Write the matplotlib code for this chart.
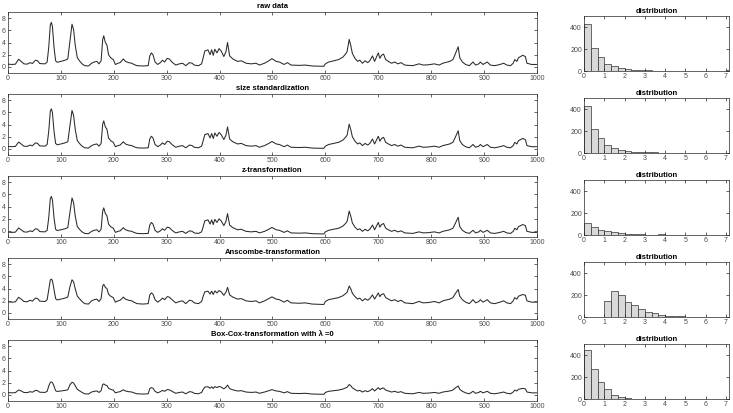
import numpy as np
import matplotlib
matplotlib.use("Agg")
import matplotlib.pyplot as plt

# ---- raw signal keypoints (sample index, value) ----
raw_x = [0, 8, 14, 20, 25, 30, 36, 42, 46, 52, 56, 60, 70, 74, 77, 80, 82, 84, 87, 90,
         93, 100, 108, 113, 117, 121, 124, 127, 131, 136, 140, 145, 152, 158, 163, 168, 172, 176, 179, 181,
         184, 187, 190, 194, 199, 203, 208, 212, 218, 222, 228, 234, 238, 244, 255, 265, 268, 271, 274, 278,
         283, 288, 292, 296, 301, 305, 310, 317, 324, 330, 336, 343, 348, 352, 360, 366, 369, 372, 378, 382,
         385, 388, 391, 395, 399, 403, 408, 412, 415, 419, 425, 434, 441, 450, 460, 469, 475, 485, 493, 499,
         507, 513, 522, 528, 535, 550, 562, 575, 597, 600, 606, 616, 625, 633, 638, 641, 645, 648, 651, 656,
         661, 665, 670, 675, 680, 684, 689, 693, 700, 703, 706, 710, 714, 719, 725, 731, 737, 743, 750, 765,
         777, 785, 795, 806, 815, 822, 835, 841, 845, 851, 854, 859, 865, 872, 879, 884, 890, 893, 898, 906,
         912, 920, 930, 937, 943, 950, 955, 958, 962, 965, 973, 978, 981, 990, 1000]
raw_y = [0.45, 0.4, 0.45, 1.25, 0.9, 0.5, 0.45, 0.7, 0.55, 1.1, 1.0, 0.55, 0.5, 0.8, 3.2, 6.9, 7.3, 6.6, 3.2, 1.0,
         0.75, 0.9, 1.1, 1.3, 4.2, 7.0, 6.1, 3.6, 1.5, 0.9, 0.5, 0.2, 0.15, 0.6, 0.8, 0.9, 0.5, 1.0, 4.5, 5.1,
         4.0, 3.6, 2.0, 1.5, 1.2, 0.4, 0.6, 0.7, 1.3, 0.9, 0.7, 0.6, 0.4, 0.2, 0.15, 0.2, 1.8, 2.3, 2.0, 0.8,
         0.4, 0.7, 1.1, 0.8, 1.4, 1.3, 0.8, 0.3, 0.5, 0.6, 0.2, 0.7, 0.6, 0.3, 0.2, 0.5, 1.5, 2.6, 2.8, 2.0,
         2.8, 1.9, 2.9, 2.3, 3.0, 2.6, 1.7, 2.5, 4.0, 1.8, 1.3, 0.9, 1.0, 0.6, 0.5, 0.6, 0.3, 0.6, 1.0, 1.35,
         0.9, 0.8, 0.4, 0.7, 0.3, 0.25, 0.3, 0.15, 0.1, 0.5, 0.8, 1.0, 1.2, 1.6, 2.1, 2.5, 4.5, 3.5, 2.2, 1.4,
         0.9, 1.1, 0.6, 1.0, 0.7, 1.0, 1.8, 0.9, 2.3, 1.4, 1.9, 2.1, 1.2, 0.9, 0.6, 0.8, 0.5, 0.7, 0.3, 0.2,
         0.5, 0.3, 0.35, 0.5, 0.3, 0.6, 0.9, 1.2, 2.0, 3.3, 1.5, 0.8, 0.4, 0.2, 0.8, 0.3, 0.5, 0.8, 0.4, 0.8,
         0.3, 0.2, 0.4, 0.6, 0.3, 0.2, 0.6, 1.2, 0.9, 1.5, 1.9, 1.7, 0.6, 0.4, 0.4]

# transformation parameters
size_factor = 0.9
z_mean = 0.685
z_std = 1.17

raw = np.array(raw_y)
series = [
    raw,
    raw * size_factor,
    (raw - z_mean) / z_std,
    2.0 * np.sqrt(raw + 3.0 / 8.0),
    np.log(raw + 1.0),
]
titles = ["raw data", "size standardization", "z-transformation",
          "Anscombe-transformation", "Box-Cox-transformation with \u03bb =0"]

# ---- histogram counts (bin width 1/3, starting at 0) ----
bin_width = 1.0 / 3.0
hist_raw = [424, 212, 130, 64, 48, 24, 18, 12, 9, 6, 4, 3, 3, 2, 2, 2, 2, 1, 1, 1, 1, 5]
hist_size = [425, 215, 140, 75, 50, 30, 20, 13, 10, 7, 5, 4, 3, 3, 2, 2, 2, 2, 1, 3]
hist_z = [105, 75, 48, 33, 24, 15, 10, 6, 8, 3, 3, 5, 3, 2, 1, 1, 1]
hist_ans = [0, 0, 0, 144, 235, 198, 135, 105, 75, 42, 33, 18, 12, 6, 5, 4, 3, 1]
hist_box = [442, 271, 156, 90, 36, 18, 12]
hists = [hist_raw, hist_size, hist_z, hist_ans, hist_box]

line_x_ticks = list(range(0, 1001, 100))
line_y_ticks = [0, 2, 4, 6, 8]
hist_x_ticks = [0, 1, 2, 3, 4, 5, 6, 7]
hist_y_ticks = [0, 200, 400]

W, H = 733, 413
fig = plt.figure(figsize=(W / 100, H / 100), dpi=100)
plt.rcParams['font.family'] = ['Liberation Sans', 'DejaVu Sans']

axcol = '#262626'
txtcol = '#4a4a4a'


def style(ax):
    for s in ax.spines.values():
        s.set_color(axcol)
        s.set_linewidth(0.5)
    ax.tick_params(direction='in', length=2.2, width=0.5, colors=axcol,
                   labelsize=5, labelcolor=txtcol, top=True, right=True, pad=1.5)


for i in range(5):
    top = 12 + 82 * i
    ax = fig.add_axes([8 / W, 1 - (top + 61) / H, 529 / W, 61 / H])
    ax.plot(raw_x, series[i], color='#2a2a2a', lw=0.75)
    ax.set_xlim(0, 1000)
    ax.set_ylim(-1, 9)
    ax.set_xticks(line_x_ticks)
    ax.set_yticks(line_y_ticks)
    style(ax)
    ax.set_title(titles[i], fontsize=5.5, fontweight='bold', pad=3, color='black')

    htop = 16 + 82 * i
    hx = fig.add_axes([584 / W, 1 - (htop + 55) / H, 145 / W, 55 / H])
    counts = hists[i]
    lefts = [k * bin_width for k in range(len(counts))]
    hx.bar(lefts, counts, width=bin_width, align='edge', color='#d9d9d9',
           edgecolor='#333333', linewidth=0.5)
    hx.set_xlim(0, 7.15)
    hx.set_ylim(0, 500)
    hx.set_xticks(hist_x_ticks)
    hx.set_yticks(hist_y_ticks)
    style(hx)
    hx.set_title("distribution", fontsize=5.5, fontweight='bold', pad=2.5, color='black')

fig.savefig("out.png", dpi=100)
